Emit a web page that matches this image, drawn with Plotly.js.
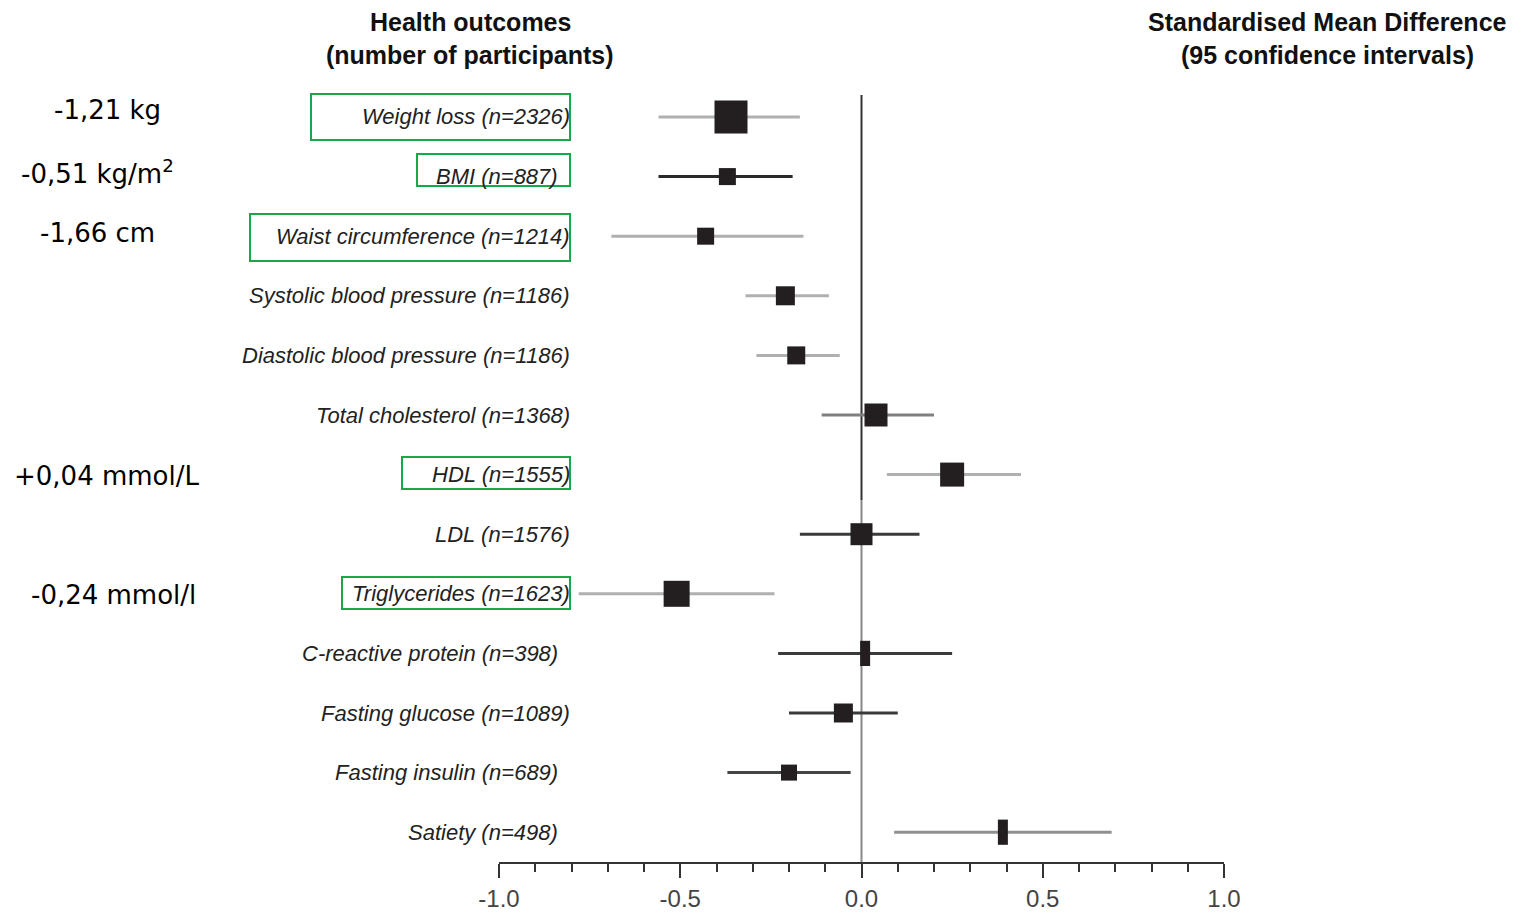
<!DOCTYPE html>
<html>
<head>
<meta charset="utf-8">
<script src="https://cdn.plot.ly/plotly-3.0.1.min.js"></script>
<style>html,body{margin:0;padding:0;background:#fff;}#chart{width:1524px;height:913px;}</style>
</head>
<body>
<div id="chart"></div>
<script>
// ---- data ----
const outcomes = ["Weight loss","BMI","Waist circumference","Systolic blood pressure","Diastolic blood pressure","Total cholesterol","HDL","LDL","Triglycerides","C-reactive protein","Fasting glucose","Fasting insulin","Satiety"];
const participants = [2326, 887, 1214, 1186, 1186, 1368, 1555, 1576, 1623, 398, 1089, 689, 498];
const smd = [-0.36, -0.37, -0.43, -0.21, -0.18, 0.04, 0.25, 0.00, -0.51, 0.01, -0.05, -0.20, 0.39];
const ciLow = [-0.56, -0.56, -0.69, -0.32, -0.29, -0.11, 0.07, -0.17, -0.78, -0.23, -0.20, -0.37, 0.09];
const ciHigh = [-0.17, -0.19, -0.16, -0.09, -0.06, 0.20, 0.44, 0.16, -0.24, 0.25, 0.10, -0.03, 0.69];
const unitOutcomes = ["Weight loss","BMI","Waist circumference","HDL","Triglycerides"];
const unitLabels = ["-1,21 kg","-0,51 kg/m<sup>2</sup>","-1,66 cm","+0,04 mmol/L","-0,24 mmol/l"];
const tickVals = [-1.0, -0.5, 0.0, 0.5, 1.0];
const tickText = ["-1.0","-0.5","0.0","0.5","1.0"];

// ---- styles (not data) ----
const ciColor = ["#b0b0b0","#2a2a2a","#b0b0b0","#b0b0b0","#b0b0b0","#808080","#b0b0b0","#3a3a3a","#b0b0b0","#3a3a3a","#3a3a3a","#444444","#909090"];
const markerSize = [33, 17, 17, 19, 18, 23, 24, 22, 26, 10, 19, 16, 10];
const thinMarker = [false,false,false,false,false,false,false,false,false,true,false,false,true];
const unitX = [107, 97, 98, 106, 113];
const unitDy = [-0.12, -0.08, -0.05, 0.02, 0.02];
const boxLeft = [311, 417, 250, 402, 342];
const boxTop = [94, 154, 214, 457, 577];
const boxBottom = [140, 186, 261, 489, 609];

// pixel helpers for plot area l=499,r=1224,t=95,b=862
const PL = 499, PW = 725, PT = 95, PH = 767;
const px = v => (v - PL) / PW;
const py = v => (PT + PH - v) / PH;

const rows = outcomes.map((_, i) => i);
const traces = [];
rows.forEach(i => {
  traces.push({
    type: "scatter", mode: "lines", x: [ciLow[i], ciHigh[i]], y: [i, i],
    line: {color: ciColor[i], width: 3}, hoverinfo: "skip", showlegend: false, cliponaxis: false
  });
});
const sqIdx = rows.filter(i => !thinMarker[i]);
traces.push({
  type: "scatter", mode: "markers",
  x: sqIdx.map(i => smd[i]), y: sqIdx,
  marker: {symbol: "square", size: sqIdx.map(i => markerSize[i]), color: "#231f20", opacity: 1, line: {width: 0}},
  showlegend: false, cliponaxis: false
});
const thIdx = rows.filter(i => thinMarker[i]);
traces.push({
  type: "scatter", mode: "markers",
  x: thIdx.map(i => smd[i]), y: thIdx,
  marker: {symbol: "line-ns", size: 18, color: "#231f20", opacity: 1, line: {width: thIdx.map(i => markerSize[i]), color: "#231f20"}},
  showlegend: false, cliponaxis: false
});

const fmt = v => v.toFixed(2);
const annotations = [];
rows.forEach(i => {
  annotations.push({
    x: -0.8, y: i, xref: "x", yref: "y", xanchor: "right", yanchor: "middle",
    xshift: participants[i] < 1000 ? -12 : 0,
    text: "<i>" + outcomes[i] + " (n=" + participants[i] + ")</i>", showarrow: false,
    font: {family: "Liberation Sans, Arial, sans-serif", size: 22, color: "#222"}
  });
  annotations.push({
    x: 1.035, y: i, xref: "x", yref: "y", xanchor: "left", yanchor: "middle",
    text: "<i>" + fmt(smd[i]) + " (" + fmt(ciLow[i]) + ", " + fmt(ciHigh[i]) + ")</i>", showarrow: false,
    font: {family: "Liberation Sans, Arial, sans-serif", size: 22, color: "#222"}
  });
});
unitOutcomes.forEach((name, k) => {
  const i = outcomes.indexOf(name);
  annotations.push({
    x: px(unitX[k]), y: i + unitDy[k], xref: "paper", yref: "y", xanchor: "center", yanchor: "middle",
    text: unitLabels[k], showarrow: false,
    font: {family: "DejaVu Sans, sans-serif", size: 26, color: "#000"}
  });
});
const titleFont = {family: "Liberation Sans, Arial, sans-serif", size: 25, color: "#111", weight: "bold"};
[["Health outcomes", 470, 22], ["(number of participants)", 470, 55],
 ["Standardised Mean Difference", 1327, 22], ["(95 confidence intervals)", 1327, 55]].forEach(t => {
  annotations.push({x: px(t[1]), y: py(t[2]), xref: "paper", yref: "paper", xanchor: "center", yanchor: "middle",
    text: t[0], showarrow: false, font: titleFont});
});

const shapes = [
  {type: "line", xref: "x", yref: "paper", x0: 0, x1: 0, y0: py(500), y1: 1, line: {color: "#333", width: 2}, layer: "below"},
  {type: "line", xref: "x", yref: "paper", x0: 0, x1: 0, y0: 0, y1: py(500), line: {color: "#888", width: 2}, layer: "below"}
];
unitOutcomes.forEach((name, k) => {
  shapes.push({type: "rect", xref: "paper", yref: "paper", x0: px(boxLeft[k]), x1: px(570), y0: py(boxBottom[k]), y1: py(boxTop[k]),
    line: {color: "#1aa64a", width: 2}, fillcolor: "rgba(0,0,0,0)"});
});

const layout = {
  width: 1524, height: 913,
  margin: {l: PL, r: 1524 - PL - PW, t: PT, b: 913 - PT - PH},
  paper_bgcolor: "#fff", plot_bgcolor: "#fff",
  xaxis: {range: [-1.0, 1.0], showgrid: false, zeroline: false, showline: true, linecolor: "#333", linewidth: 2,
    tickmode: "array", tickvals: tickVals, ticktext: tickText, ticks: "outside", ticklen: 14, tickwidth: 2, tickcolor: "#333",
    minor: {dtick: 0.1, ticks: "outside", ticklen: 8, tickwidth: 2, tickcolor: "#333", showgrid: false},
    tickfont: {family: "Liberation Sans, Arial, sans-serif", size: 24, color: "#444"}, fixedrange: true},
  yaxis: {range: [12.5, -0.369], showgrid: false, zeroline: false, showline: false, showticklabels: false, ticks: "", fixedrange: true},
  annotations: annotations, shapes: shapes, showlegend: false
};
Plotly.newPlot("chart", traces, layout, {displayModeBar: false, staticPlot: true});
</script>
</body>
</html>
